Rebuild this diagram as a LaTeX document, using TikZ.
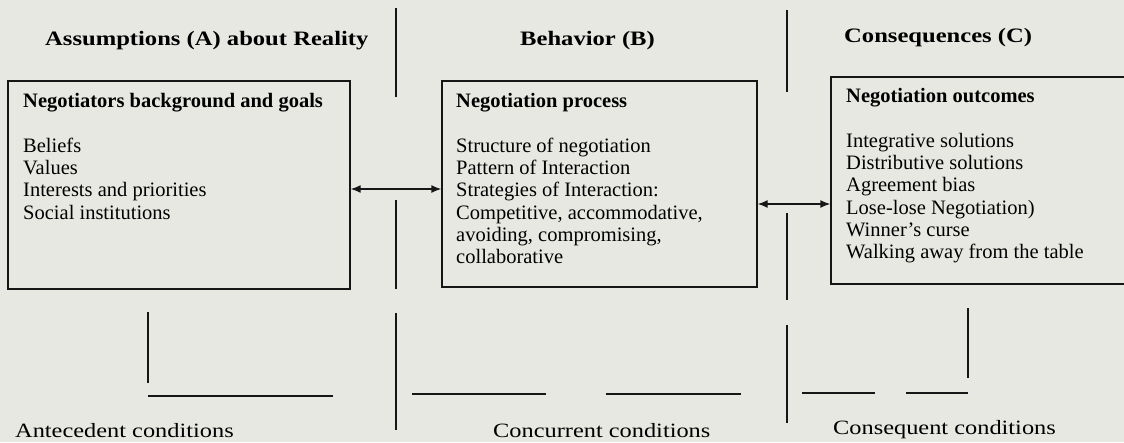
\documentclass[tikz,border=0pt]{standalone}
\usepackage{fontspec}
\setmainfont{Liberation Serif}
\newfontfamily\widefont[FakeStretch=1.2]{Liberation Serif}
\usetikzlibrary{arrows.meta}
\definecolor{paper}{RGB}{232,232,227}
\definecolor{ink}{RGB}{22,22,22}
\begin{document}
\begin{tikzpicture}[x=1pt,y=-1pt,
    panel/.style={draw=ink,line width=1.4pt,rectangle},
    head/.style={font=\widefont\bfseries\fontsize{20.5}{24}\selectfont,anchor=base west,inner sep=0pt},
    body/.style={font=\fontsize{20.5}{22.3}\selectfont,align=left,anchor=north west,inner sep=0pt},
    cond/.style={font=\widefont\fontsize{20.3}{24}\selectfont,anchor=base west,inner sep=0pt},
    rule/.style={ink,line width=1.4pt},
    link/.style={{Latex[length=10pt,width=8pt]}-{Latex[length=10pt,width=8pt]},ink,line width=1.4pt}]
                \fill[paper] (0,0) rectangle (1124,442);
                \useasboundingbox (0,0) rectangle (1124,442);
                \node[head] (hA) at (45,45) {Assumptions (A) about Reality};
                \node[head] (hB) at (520,45) {Behavior (B)};
                \node[head] (hC) at (844,42) {Consequences (C)};
                \node[panel,minimum width=342,minimum height=208] (boxA) at (179,185) {};
                \node[panel,minimum width=315,minimum height=206] (boxB) at (599.5,184) {};
                \node[panel,minimum width=309,minimum height=207] (boxC) at (985.5,180.5) {};
                \node[body] (listA) at (23,93) {\textbf{Negotiators background and goals}\\[22.5pt]
                    Beliefs\\ Values\\ Interests and priorities\\ Social institutions};
                \node[body] (listB) at (456,93) {\textbf{Negotiation process}\\[22.5pt]
                    Structure of negotiation\\ Pattern of Interaction\\ Strategies of Interaction:\\
                    Competitive, accommodative,\\ avoiding, compromising,\\ collaborative};
                \node[body] (listC) at (846,88) {\textbf{Negotiation outcomes}\\[22.5pt]
                    Integrative solutions\\ Distributive solutions\\ Agreement bias\\
                    Lose-lose Negotiation)\\ Winner's curse\\ Walking away from the table};
                \draw[link] ([yshift=-4pt]boxA.east) -- ([yshift=-4pt]boxA.east -| boxB.west);
                \draw[link] ([yshift=-20pt]boxB.east) -- ([yshift=-20pt]boxB.east -| boxC.west);
                \foreach \x/\a/\b/\c/\d/\e/\f in {396/8/97/200/289/313/430, 787/10/92/213/300/325/423}
                    \draw[rule] (\x,\a) -- (\x,\b) (\x,\c) -- (\x,\d) (\x,\e) -- (\x,\f);
                \draw[rule] (148,312) -- (148,383) (148,396) -- (333,396);
                \draw[rule] (412,394) -- (546,394) (606,394) -- (741,394);
                \draw[rule] (802,393) -- (875,393) (906,393) -- (968,393) (968,308) -- (968,378);
                \node[cond] (cA) at (15,437) {Antecedent conditions};
                \node[cond] (cB) at (493,437) {Concurrent conditions};
                \node[cond] (cC) at (833,434) {Consequent conditions};
            \end{tikzpicture}
\end{document}
